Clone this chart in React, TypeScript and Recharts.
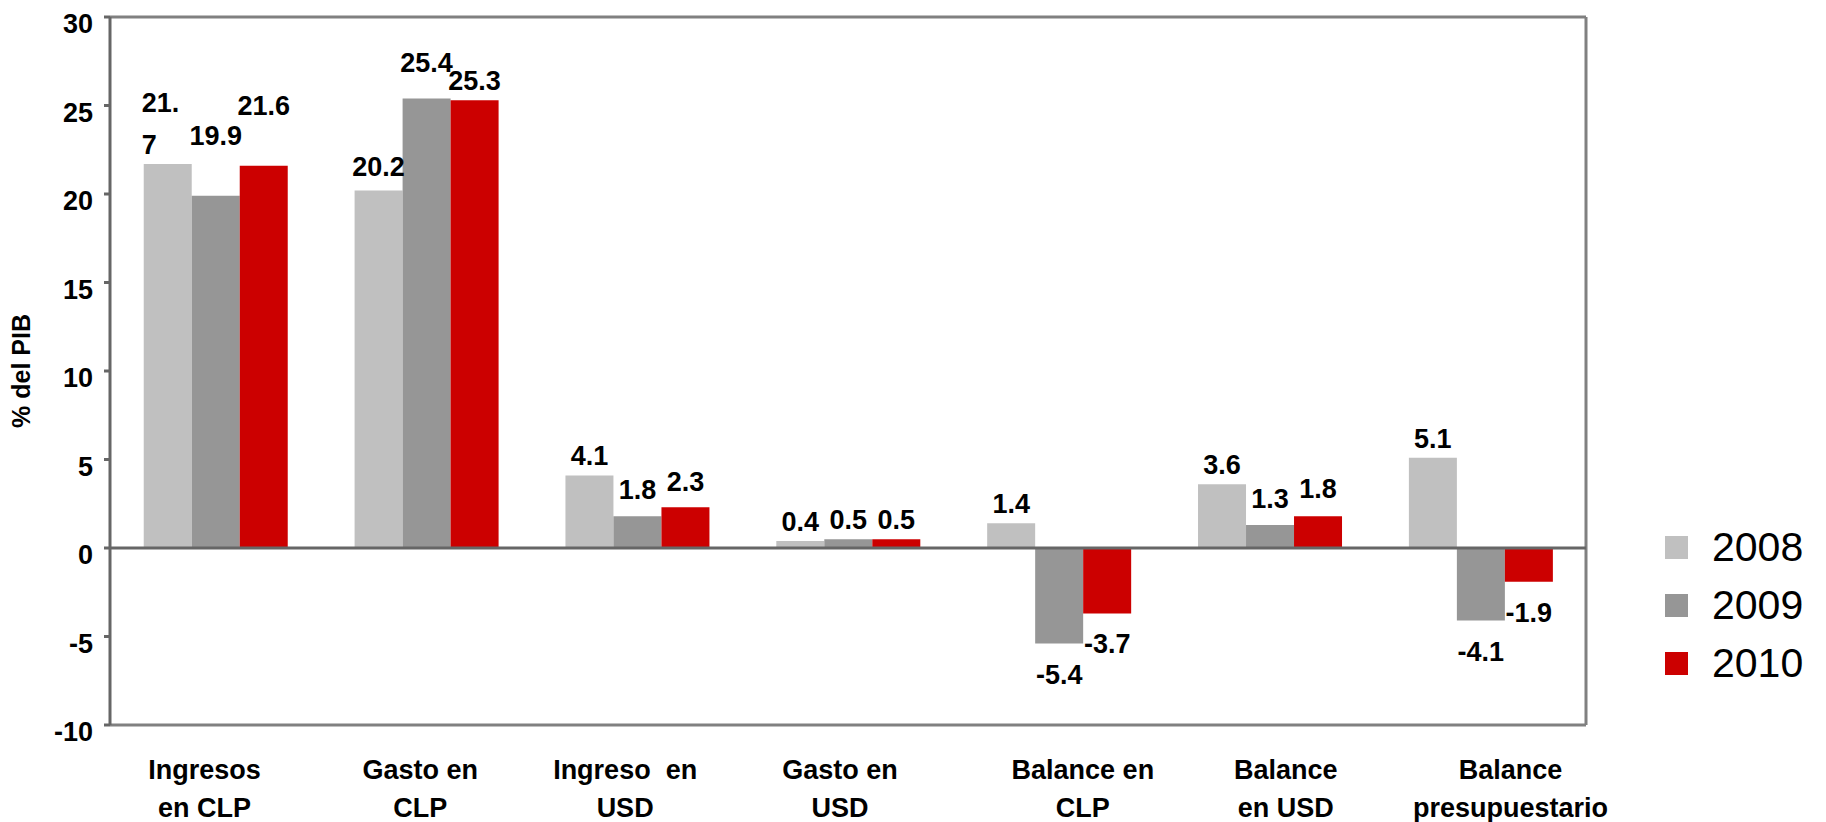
import {
  BarChart,
  Bar,
  XAxis,
  YAxis,
  CartesianGrid,
  ReferenceLine,
  LabelList,
  Legend,
} from "recharts";

const categories = [
  "Ingresos\nen CLP",
  "Gasto en\nCLP",
  "Ingreso  en\nUSD",
  "Gasto en\nUSD",
  "Balance en\nCLP",
  "Balance\nen USD",
  "Balance\npresupuestario",
];
const values2008 = [21.7, 20.2, 4.1, 0.4, 1.4, 3.6, 5.1];
const values2009 = [19.9, 25.4, 1.8, 0.5, -5.4, 1.3, -4.1];
const values2010 = [21.6, 25.3, 2.3, 0.5, -3.7, 1.8, -1.9];
const yTicks = [-10, -5, 0, 5, 10, 15, 20, 25, 30];

const series = [
  { key: "2008", color: "#C0C0C0" },
  { key: "2009", color: "#969696" },
  { key: "2010", color: "#CC0000" },
];

const data = categories.map((name, i) => ({
  name,
  "2008": values2008[i],
  "2009": values2009[i],
  "2010": values2010[i],
}));

const FONT = '"Liberation Sans", Arial, sans-serif';

// excel put some labels a bit higher than the rest
const labelNudge: Record<string, number> = {
  "2008-1": -4,
  "2009-0": -41,
  "2010-0": -41,
  "2009-1": -16,
  "2009-2": -7,
  "2010-2": -6,
  "2009-5": -7,
  "2010-5": -8,
};
// the first label got wrapped in the original
const wrapped: Record<string, string[]> = { "2008-0": ["21.", "7"] };
// category labels are not quite centred under their groups in the original
const tickShift = [-11, -6, -12, -8, 24, 16, 30];

const makeLabel = (seriesKey: string) => (props: any) => {
  const { x, y, width, height, value, index } = props;
  const top = Math.min(y, y + height);
  const bottom = Math.max(y, y + height);
  const key = `${seriesKey}-${index}`;
  const nudge = labelNudge[key] || 0;
  const cx = x + width / 2;
  const style = { fontFamily: FONT, fontWeight: 700, fontSize: 27, fill: "#000" };
  if (wrapped[key]) {
    const lines = wrapped[key];
    return (
      <text x={x - 2} y={top - 10 - 42 * (lines.length - 1)} textAnchor="start" {...style}>
        {lines.map((l, i) => (
          <tspan key={i} x={x - 2} dy={i === 0 ? 0 : 42}>
            {l}
          </tspan>
        ))}
      </text>
    );
  }
  const ty = value >= 0 ? top - 10 + nudge : bottom + 40 + nudge;
  return (
    <text x={cx} y={ty} textAnchor="middle" {...style}>
      {Number(value).toFixed(1)}
    </text>
  );
};

const XTick = (props: any) => {
  const { x, y, payload, index } = props;
  const lines = String(payload.value).split("\n");
  const tx = x + (tickShift[index] || 0);
  return (
    <text
      x={tx}
      y={y + 54}
      textAnchor="middle"
      fontFamily={FONT}
      fontWeight={700}
      fontSize={27}
      fill="#000"
    >
      {lines.map((l, i) => (
        <tspan key={i} x={tx} dy={i === 0 ? 0 : 38} style={{ whiteSpace: "pre" }}>
          {l}
        </tspan>
      ))}
    </text>
  );
};

const YTick = (props: any) => {
  const { x, y, payload } = props;
  return (
    <text
      x={x}
      y={y + 16}
      textAnchor="end"
      fontFamily={FONT}
      fontWeight={700}
      fontSize={27}
      fill="#000"
    >
      {payload.value}
    </text>
  );
};

const LegendBox = () => (
  <div style={{ fontFamily: FONT }}>
    {series.map((s) => (
      <div
        key={s.key}
        style={{ display: "flex", alignItems: "center", height: 58 }}
      >
        <div style={{ width: 23, height: 23, background: s.color, marginRight: 24 }} />
        <span style={{ fontSize: 41, color: "#000" }}>{s.key}</span>
      </div>
    ))}
  </div>
);

export default function App() {
  return (
    <div style={{ position: "absolute", left: 0, top: 0, background: "#fff" }}>
      <BarChart
        width={1826}
        height={822}
        data={data}
        margin={{ top: 17, right: 240, bottom: 0, left: 0 }}
        barCategoryGap="16%"
        barGap={0}
      >
        <CartesianGrid
          stroke="#808080"
          strokeWidth={3}
          horizontalCoordinatesGenerator={({ offset }: any) => [
            offset.top,
            offset.top + offset.height,
          ]}
          verticalCoordinatesGenerator={({ offset }: any) => [
            offset.left + offset.width,
          ]}
        />
        <XAxis
          dataKey="name"
          axisLine={false}
          tickLine={false}
          tickSize={0}
          tickMargin={0}
          height={97}
          interval={0}
          tick={<XTick />}
        />
        <YAxis
          width={110}
          domain={[-10, 30]}
          ticks={yTicks}
          interval={0}
          axisLine={{ stroke: "#666666", strokeWidth: 3 }}
          tickLine={{ stroke: "#666666", strokeWidth: 3 }}
          tickSize={6}
          tickMargin={11}
          tick={<YTick />}
          label={{
            content: ({ viewBox }: any) => (
              <text
                x={21}
                y={viewBox.y + viewBox.height / 2}
                transform={`rotate(-90 21 ${viewBox.y + viewBox.height / 2})`}
                textAnchor="middle"
                dominantBaseline="central"
                fontFamily={FONT}
                fontWeight={700}
                fontSize={25}
                fill="#000"
              >
                % del PIB
              </text>
            ),
          }}
        />
        <ReferenceLine y={0} stroke="#666666" strokeWidth={3} />
        {series.map((s) => (
          <Bar key={s.key} dataKey={s.key} fill={s.color} isAnimationActive={false}>
            <LabelList dataKey={s.key} content={makeLabel(s.key)} />
          </Bar>
        ))}
        <Legend
          layout="vertical"
          align="center"
          verticalAlign="middle"
          content={<LegendBox />}
          wrapperStyle={{ left: 1665, top: 518, width: 200 }}
        />
      </BarChart>
    </div>
  );
}
